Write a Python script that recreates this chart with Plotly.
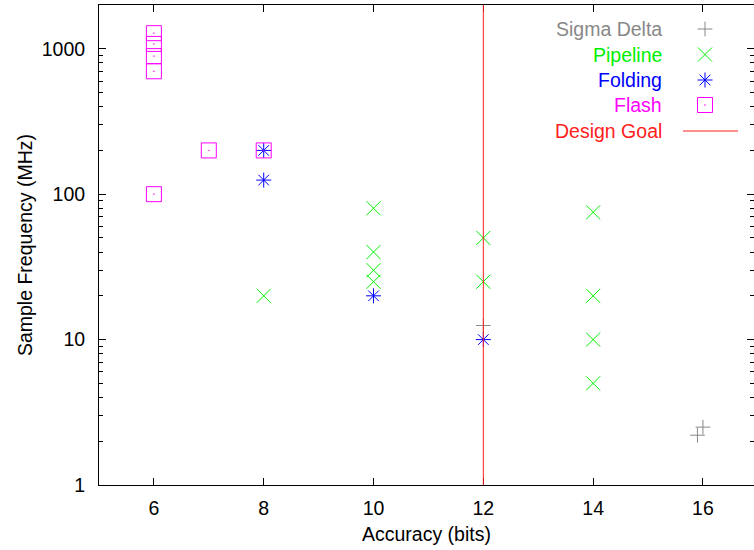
import plotly.graph_objects as go

# ADC survey: sample frequency vs. accuracy, by architecture
sigma_delta_bits = [12, 16, 15.9]
sigma_delta_mhz = [12.5, 2.5, 2.2]

pipeline_bits = [8, 10, 10, 10, 10, 12, 12, 14, 14, 14, 14]
pipeline_mhz = [20, 80, 40, 30, 25, 50, 25, 75, 20, 10, 5]

folding_bits = [8, 8, 10, 12]
folding_mhz = [200, 125, 20, 10]

flash_bits = [6, 6, 6, 6, 6, 7, 8]
flash_mhz = [1280, 1080, 890, 700, 100, 200, 200]

design_goal_bits = 12

x_ticks = [6, 8, 10, 12, 14, 16]
y_ticks = [1, 10, 100, 1000]

GREY = "#888888"
GREEN = "#00f000"
BLUE = "#0000ff"
MAGENTA = "#ff00ff"
RED = "#ff2020"
FONT = "Liberation Sans, Arial, sans-serif"

series = [
    ("Sigma Delta", sigma_delta_bits, sigma_delta_mhz, "cross-thin", 10.5, GREY),
    ("Pipeline", pipeline_bits, pipeline_mhz, "x-thin", 14, GREEN),
    ("Folding", folding_bits, folding_mhz, "asterisk", 12.5, BLUE),
    ("Flash", flash_bits, flash_mhz, "square-open-dot", 15, MAGENTA),
]

fig = go.Figure()
for name, xs, ys, sym, size, col in series:
    fig.add_trace(go.Scatter(
        x=xs, y=ys, mode="markers", name=name, showlegend=False,
        marker=dict(symbol=sym, size=size, color=col,
                    line=dict(color=col, width=1)),
    ))

fig.add_vline(x=design_goal_bits, line=dict(color=RED, width=1))

# Key drawn on a pixel-scaled overlay: label right-aligned, sample to its right
key_rows = [(29, "Sigma Delta", GREY), (54.5, "Pipeline", GREEN),
            (80, "Folding", BLUE), (105, "Flash", MAGENTA),
            (131, "Design Goal", RED)]
key_text_x = 664
key_sample_x = 705
for i, (name, xs, ys, sym, size, col) in enumerate(series):
    fig.add_trace(go.Scatter(
        x=[key_sample_x], y=[key_rows[i][0]], xaxis="x2", yaxis="y2",
        mode="markers", showlegend=False, hoverinfo="skip",
        marker=dict(symbol=sym, size=size, color=col,
                    line=dict(color=col, width=1)),
    ))
for ky, label, col in key_rows:
    fig.add_annotation(x=key_text_x, y=ky, xref="x2", yref="y2", text=label,
                       showarrow=False, xanchor="right", yanchor="middle",
                       font=dict(family=FONT, size=19.5, color=col))
fig.add_shape(type="line", xref="x2", yref="y2", x0=683, x1=738,
              y0=key_rows[-1][0], y1=key_rows[-1][0],
              line=dict(color=RED, width=1))

axis_common = dict(
    showline=True, linecolor="black", linewidth=1, mirror="ticks",
    ticks="inside", ticklen=7, tickcolor="black", tickwidth=1,
    showgrid=False, zeroline=False,
    tickfont=dict(family=FONT, size=19.5, color="black"),
)

fig.update_layout(
    width=754, height=550,
    margin=dict(l=99, r=0, t=5, b=65),
    paper_bgcolor="white", plot_bgcolor="white",
    font=dict(family=FONT, size=19.5, color="black"),
    xaxis=dict(
        range=[5, 16.93], tickvals=x_ticks,
        title=dict(text="Accuracy (bits)", standoff=8,
                   font=dict(family=FONT, size=19.5)),
        ticklabelstandoff=6,
        **axis_common,
    ),
    yaxis=dict(
        type="log", range=[0, 3.301], tickvals=y_ticks,
        ticktext=[str(v) for v in y_ticks],
        minor=dict(ticks="inside", ticklen=4, tickcolor="black",
                   dtick="D1", showgrid=False),
        title=dict(text="Sample Frequency (MHz)", standoff=3,
                   font=dict(family=FONT, size=19.5)),
        ticklabelstandoff=9,
        **axis_common,
    ),
    xaxis2=dict(range=[99, 754], overlaying="x", anchor="y2", visible=False,
                fixedrange=True),
    yaxis2=dict(range=[485, 5], overlaying="y", anchor="x2", visible=False,
                fixedrange=True),
)

fig.write_html("out.html")
